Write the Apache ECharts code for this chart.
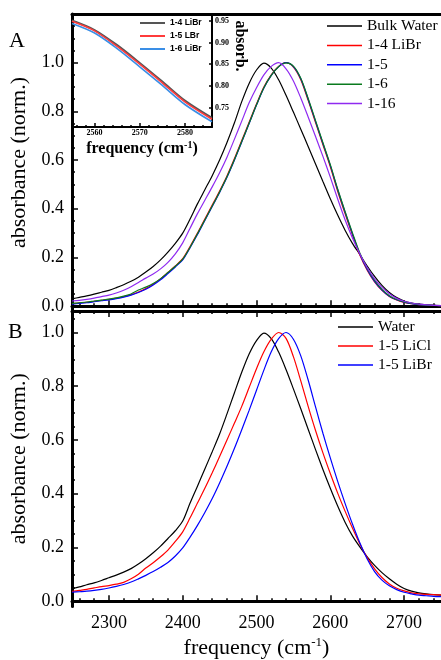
<!DOCTYPE html>
<html>
<head>
<meta charset="utf-8">
<script src="https://cdn.jsdelivr.net/npm/echarts@6/dist/echarts.min.js"></script>
<style>
  html, body { margin: 0; padding: 0; background: #fff; }
  #chart { width: 441px; height: 660px; }
</style>
</head>
<body>
<div id="chart"></div>
<script>
// frequency grid (cm-1) shared by panels A and B, 10 cm-1 steps
const freq = [2250, 2260, 2270, 2280, 2290, 2300, 2310, 2320, 2330, 2340, 2350, 2360, 2370, 2380, 2390,
  2400, 2410, 2420, 2430, 2440, 2450, 2460, 2470, 2480, 2490, 2500, 2510, 2520, 2530, 2540, 2550, 2560,
  2570, 2580, 2590, 2600, 2610, 2620, 2630, 2640, 2650, 2660, 2670, 2680, 2690, 2700, 2710, 2720, 2730,
  2740, 2750]

// panel A
const bulkWater = [0.030, 0.036, 0.042, 0.049, 0.057, 0.065, 0.076, 0.088, 0.102, 0.119, 0.140, 0.163, 0.190,
  0.222, 0.258, 0.300, 0.358, 0.420, 0.478, 0.536, 0.600, 0.672, 0.752, 0.840, 0.915, 0.970, 0.998, 0.978,
  0.930, 0.866, 0.797, 0.727, 0.656, 0.584, 0.512, 0.441, 0.374, 0.312, 0.258, 0.212, 0.165, 0.122, 0.085,
  0.056, 0.035, 0.021, 0.013, 0.008, 0.005, 0.003, 0.002]
const libr14 = [0.010, 0.013, 0.016, 0.020, 0.024, 0.028, 0.033, 0.039, 0.047, 0.058, 0.072, 0.090, 0.112,
  0.138, 0.165, 0.195, 0.245, 0.300, 0.358, 0.415, 0.473, 0.535, 0.605, 0.680, 0.755, 0.830, 0.900, 0.950,
  0.985, 1.000, 0.982, 0.930, 0.845, 0.754, 0.663, 0.572, 0.472, 0.380, 0.292, 0.210, 0.148, 0.100, 0.065,
  0.040, 0.025, 0.015, 0.010, 0.006, 0.004, 0.003, 0.002]
const libr15 = [0.008, 0.011, 0.014, 0.018, 0.022, 0.026, 0.031, 0.037, 0.045, 0.056, 0.069, 0.087, 0.108,
  0.134, 0.161, 0.190, 0.240, 0.294, 0.352, 0.409, 0.467, 0.529, 0.599, 0.674, 0.750, 0.826, 0.896, 0.948,
  0.984, 1.000, 0.984, 0.934, 0.850, 0.759, 0.668, 0.578, 0.478, 0.386, 0.297, 0.214, 0.151, 0.102, 0.066,
  0.041, 0.026, 0.016, 0.010, 0.006, 0.004, 0.003, 0.002]
const libr16 = [0.011, 0.014, 0.017, 0.021, 0.025, 0.029, 0.034, 0.041, 0.050, 0.066, 0.078, 0.093, 0.113,
  0.138, 0.164, 0.193, 0.242, 0.297, 0.354, 0.411, 0.469, 0.531, 0.601, 0.676, 0.751, 0.827, 0.897, 0.948,
  0.983, 0.999, 0.986, 0.936, 0.853, 0.762, 0.671, 0.581, 0.481, 0.389, 0.301, 0.218, 0.155, 0.106, 0.069,
  0.043, 0.027, 0.017, 0.011, 0.007, 0.004, 0.003, 0.002]
const libr116 = [0.021, 0.024, 0.028, 0.033, 0.039, 0.045, 0.054, 0.065, 0.080, 0.097, 0.115, 0.132, 0.153,
  0.180, 0.215, 0.260, 0.320, 0.380, 0.435, 0.490, 0.548, 0.612, 0.685, 0.760, 0.835, 0.897, 0.950, 0.985,
  1.000, 0.975, 0.925, 0.855, 0.777, 0.697, 0.615, 0.530, 0.440, 0.355, 0.280, 0.215, 0.158, 0.112, 0.077,
  0.051, 0.032, 0.020, 0.013, 0.008, 0.005, 0.003, 0.002]

// panel B
const water = [0.046, 0.053, 0.061, 0.068, 0.077, 0.087, 0.097, 0.108, 0.121, 0.138, 0.158, 0.180, 0.205,
  0.233, 0.262, 0.298, 0.365, 0.428, 0.492, 0.556, 0.622, 0.697, 0.775, 0.852, 0.920, 0.970, 0.998, 0.977,
  0.927, 0.862, 0.790, 0.716, 0.640, 0.564, 0.490, 0.420, 0.354, 0.294, 0.243, 0.202, 0.165, 0.133, 0.106,
  0.083, 0.063, 0.047, 0.037, 0.031, 0.027, 0.024, 0.022]
const licl15 = [0.036, 0.040, 0.044, 0.049, 0.054, 0.058, 0.063, 0.070, 0.083, 0.100, 0.123, 0.143, 0.165,
  0.190, 0.222, 0.258, 0.310, 0.365, 0.420, 0.478, 0.538, 0.600, 0.662, 0.725, 0.795, 0.865, 0.928, 0.975,
  1.000, 0.978, 0.910, 0.820, 0.725, 0.635, 0.552, 0.475, 0.402, 0.335, 0.272, 0.213, 0.162, 0.120, 0.088,
  0.064, 0.048, 0.038, 0.031, 0.027, 0.025, 0.024, 0.023]
const librB15 = [0.033, 0.035, 0.037, 0.040, 0.044, 0.049, 0.055, 0.062, 0.071, 0.083, 0.096, 0.110, 0.126,
  0.144, 0.168, 0.198, 0.238, 0.282, 0.330, 0.382, 0.440, 0.502, 0.568, 0.638, 0.710, 0.785, 0.860, 0.928,
  0.977, 1.000, 0.975, 0.913, 0.823, 0.723, 0.625, 0.533, 0.446, 0.364, 0.287, 0.217, 0.157, 0.110, 0.078,
  0.057, 0.043, 0.033, 0.027, 0.022, 0.020, 0.018, 0.017]

// inset (zoom of panel A shoulder)
const insetFreq = [2555, 2560, 2565, 2570, 2575, 2580, 2586]
const inset14 = [0.951, 0.929, 0.894, 0.853, 0.810, 0.766, 0.726]
const inset15 = [0.949, 0.927, 0.891, 0.850, 0.807, 0.763, 0.723]
const inset16 = [0.944, 0.922, 0.886, 0.844, 0.801, 0.757, 0.717]

// tick values
const freqTicks = [2300, 2400, 2500, 2600, 2700]
const absTicks = [0, 0.2, 0.4, 0.6, 0.8, 1.0]
const insetFreqTicks = [2560, 2570, 2580]
const insetAbsTicks = [0.75, 0.80, 0.85, 0.90, 0.95]

function minorTicks(from, to, step, majors) {
  const out = []
  for (let v = from; v <= to + 1e-9; v += step) {
    const r = Math.round(v * 1000) / 1000
    if (!majors.some(m => Math.abs(m - r) < 1e-6)) out.push(r)
  }
  return out
}
const freqMinor = minorTicks(2260, 2740, 20, freqTicks)
const absMinorA = minorTicks(0.05, 1.15, 0.05, absTicks)
const absMinorB = minorTicks(0.05, 1.05, 0.05, absTicks)
const insetFreqMinor = minorTicks(2556, 2586, 2, insetFreqTicks)

const SERIF = "Liberation Serif"
const LINE = { color: "#000", width: 3 }

function tickAxis(gridIndex, position, min, max, ticks, len, extra) {
  return Object.assign({
    gridIndex, position, type: "value", min, max,
    axisLine: { show: false },
    axisTick: { inside: true, length: len, customValues: ticks, lineStyle: { color: "#000", width: 1.5 } },
    axisLabel: { show: false },
    splitLine: { show: false }
  }, extra || {})
}

function pairs(xs, ys) {
  return xs.map((x, i) => [x, ys[i]])
}

function line(name, xi, yi, xs, ys, color, width) {
  return {
    name, type: "line", xAxisIndex: xi, yAxisIndex: yi,
    data: pairs(xs, ys), symbol: "none", smooth: 0.3,
    lineStyle: { color, width: width || 1.2 }, itemStyle: { color }
  }
}

const chart = echarts.init(document.getElementById("chart"))

chart.setOption({
  animation: false,
  backgroundColor: "#fff",
  grid: [
    { left: 72, top: 14, width: 371, height: 297 },
    { left: 72, top: 311, width: 371, height: 297 },
    { left: 72, top: 14, width: 140, height: 113 }
  ],
  xAxis: [
    // panel A
    tickAxis(0, "bottom", 2250, 2750, freqTicks, 6, { axisLine: { lineStyle: LINE } }),
    tickAxis(0, "bottom", 2250, 2750, freqMinor, 3),
    tickAxis(0, "top", 2250, 2750, [], 0, { axisLine: { lineStyle: LINE }, axisTick: { show: false } }),
    // panel B
    tickAxis(1, "bottom", 2250, 2750, freqTicks, 6, {
      axisLine: { lineStyle: LINE },
      axisLabel: { show: true, customValues: freqTicks, margin: 8, color: "#000", fontFamily: SERIF, fontSize: 18, formatter: v => String(v) },
      name: "{a|frequency (cm}{s|-1}{a|)}", nameLocation: "middle", nameGap: 30,
      nameTextStyle: {
        rich: {
          a: { fontFamily: SERIF, fontSize: 22, color: "#000" },
          s: { fontFamily: SERIF, fontSize: 13, color: "#000", verticalAlign: "top", padding: [0, 0, 10, 0] }
        }
      }
    }),
    tickAxis(1, "bottom", 2250, 2750, freqMinor, 3),
    tickAxis(1, "top", 2250, 2750, freqTicks, 6, { axisLine: { lineStyle: LINE } }),
    tickAxis(1, "top", 2250, 2750, freqMinor, 3),
    // inset
    tickAxis(2, "bottom", 2555, 2586, insetFreqTicks, 4, {
      axisLine: { lineStyle: { color: "#000", width: 2 } },
      axisLabel: { show: true, customValues: insetFreqTicks, margin: 2, color: "#000", fontFamily: SERIF, fontSize: 8, fontWeight: "bold", formatter: v => String(v) },
      name: "{a|frequency (cm}{s|-1}{a|)}", nameLocation: "middle", nameGap: 13,
      nameTextStyle: {
        rich: {
          a: { fontFamily: SERIF, fontSize: 16, fontWeight: "bold", color: "#000" },
          s: { fontFamily: SERIF, fontSize: 10, fontWeight: "bold", color: "#000", verticalAlign: "top", padding: [0, 0, 7, 0] }
        }
      }
    }),
    tickAxis(2, "bottom", 2555, 2586, insetFreqMinor, 2)
  ],
  yAxis: [
    // panel A
    tickAxis(0, "left", -0.02, 1.2, absTicks, 6, {
      axisLine: { lineStyle: LINE },
      axisLabel: { show: true, customValues: absTicks, margin: 8, color: "#000", fontFamily: SERIF, fontSize: 18, formatter: v => v.toFixed(1) },
      name: "absorbance (norm.)", nameLocation: "middle", nameGap: 40,
      nameTextStyle: { color: "#000", fontFamily: SERIF, fontSize: 22 }
    }),
    tickAxis(0, "left", -0.02, 1.2, absMinorA, 3),
    // panel B
    tickAxis(1, "left", -0.02, 1.08, absTicks, 6, {
      axisLine: { lineStyle: LINE },
      axisLabel: { show: true, customValues: absTicks, margin: 8, color: "#000", fontFamily: SERIF, fontSize: 18, formatter: v => v.toFixed(1) },
      name: "absorbance (norm.)", nameLocation: "middle", nameGap: 40,
      nameTextStyle: { color: "#000", fontFamily: SERIF, fontSize: 22 }
    }),
    tickAxis(1, "left", -0.02, 1.08, absMinorB, 3),
    // inset
    tickAxis(2, "right", 0.705, 0.966, insetAbsTicks, 3, {
      axisLine: { lineStyle: { color: "#000", width: 2 } },
      axisLabel: { show: true, customValues: insetAbsTicks, margin: 3, color: "#000", fontFamily: SERIF, fontSize: 8, fontWeight: "bold", formatter: v => v.toFixed(2) }
    })
  ],
  legend: [
    {
      data: ["Bulk Water", "1-4 LiBr", "1-5", "1-6", "1-16"],
      orient: "vertical", left: 327, top: 18, padding: 0, icon: "rect",
      itemWidth: 35, itemHeight: 1.5, itemGap: 3.4,
      textStyle: { color: "#000", fontFamily: SERIF, fontSize: 15.5, lineHeight: 16 }
    },
    {
      data: ["Water", "1-5 LiCl", "1-5 LiBr"],
      orient: "vertical", left: 338, top: 319, padding: 0, icon: "rect",
      itemWidth: 35, itemHeight: 1.5, itemGap: 3,
      textStyle: { color: "#000", fontFamily: SERIF, fontSize: 15.5, lineHeight: 16 }
    },
    {
      data: ["inset 1-4 LiBr", "inset 1-5 LBr", "inset 1-6 LiBr"],
      formatter: n => n.replace("inset ", ""),
      orient: "vertical", left: 140, top: 18.5, padding: 0, icon: "rect",
      itemWidth: 25, itemHeight: 2, itemGap: 4,
      textStyle: { color: "#000", fontFamily: "Liberation Sans", fontSize: 8.5, fontWeight: "bold", lineHeight: 9 }
    }
  ],
  graphic: [
    { type: "text", left: 9, top: 30, style: { text: "A", font: "22px 'Liberation Serif'", fill: "#000" } },
    { type: "text", left: 8, top: 321, style: { text: "B", font: "22px 'Liberation Serif'", fill: "#000" } },
    {
      type: "text", x: 240, y: 46, rotation: -Math.PI / 2,
      style: { text: "absorb.", font: "bold 16px 'Liberation Serif'", fill: "#000", align: "center", verticalAlign: "middle" }
    }
  ],
  series: [
    line("Bulk Water", 0, 0, freq, bulkWater, "#000"),
    line("1-4 LiBr", 0, 0, freq, libr14, "#ff0000"),
    line("1-5", 0, 0, freq, libr15, "#0000ff"),
    line("1-6", 0, 0, freq, libr16, "#0a7a1e"),
    line("1-16", 0, 0, freq, libr116, "#8f2af0"),
    line("Water", 3, 2, freq, water, "#000"),
    line("1-5 LiCl", 3, 2, freq, licl15, "#ff0000"),
    line("1-5 LiBr", 3, 2, freq, librB15, "#0000ff"),
    line("inset 1-4 LiBr", 7, 4, insetFreq, inset14, "#555555", 2),
    line("inset 1-5 LBr", 7, 4, insetFreq, inset15, "#ff3b3b", 1.6),
    line("inset 1-6 LiBr", 7, 4, insetFreq, inset16, "#3a8ee6", 1.6)
  ]
})
</script>
</body>
</html>
